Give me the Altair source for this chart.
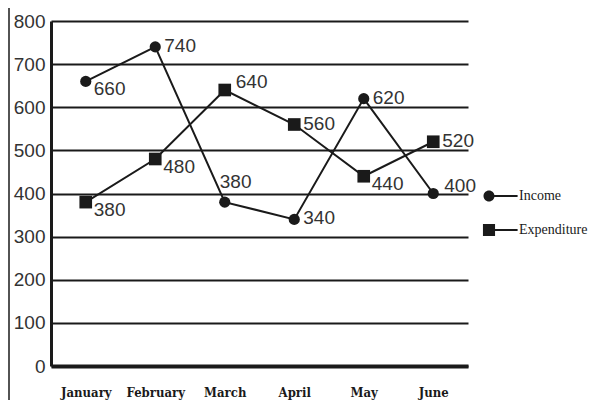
import altair as alt
import pandas as pd

months = ["January", "February", "March", "April", "May", "June"]
income = [660, 740, 380, 340, 620, 400]
expenditure = [380, 480, 640, 560, 440, 520]
series_names = ["Income", "Expenditure"]
# label placement relative to each point
income_label_pos = ["below", "right", "above", "right", "right", "upright"]
expenditure_label_pos = ["below", "below", "upright", "right", "below", "right"]
y_ticks = [0, 100, 200, 300, 400, 500, 600, 700, 800]

rows = []
for s, vals, pos in [("Income", income, income_label_pos),
                     ("Expenditure", expenditure, expenditure_label_pos)]:
    for m, v, p in zip(months, vals, pos):
        rows.append({"month": m, "series": s, "value": v, "pos": p})
df = pd.DataFrame(rows)

INK = "#1a1a1a"
NUM_FONT = "Liberation Sans"

x_enc = alt.X(
    "month:N", sort=months,
    scale=alt.Scale(type="point", padding=0.5),
    axis=alt.Axis(title=None, labelAngle=0, domain=True, domainColor=INK,
                  domainWidth=4, ticks=False, grid=False,
                  labelFont="DejaVu Serif Condensed", labelFontWeight="bold",
                  labelFontSize=13, labelPadding=20, labelColor=INK),
)
y_enc = alt.Y(
    "value:Q",
    scale=alt.Scale(domain=[0, 800], nice=False),
    axis=alt.Axis(values=y_ticks, title=None, grid=True, gridColor=INK,
                  gridWidth=2, domainColor=INK, domainWidth=3, ticks=False,
                  labelFont=NUM_FONT, labelFontSize=19, labelPadding=6,
                  labelColor="#333"),
)

base = alt.Chart(df)

lines = base.mark_line(color=INK, strokeWidth=2).encode(
    x=x_enc, y=y_enc, detail="series:N"
)

points = base.mark_point(filled=True, opacity=1, color=INK).encode(
    x=x_enc, y=y_enc,
    shape=alt.Shape(
        "series:N",
        scale=alt.Scale(domain=series_names, range=["circle", "square"]),
        legend=None,
    ),
    size=alt.condition("datum.series === 'Income'", alt.value(125), alt.value(160)),
)

circle_path = "M-1,0A1,1,0,1,1,1,0A1,1,0,1,1,-1,0Z M0.5,-0.2L5.2,-0.2L5.2,0.2L0.5,0.2Z"
square_path = "M-1.1,-1.1L1.1,-1.1L1.1,1.1L-1.1,1.1Z M1,-0.2L5.2,-0.2L5.2,0.2L1,0.2Z"

legend_layer = base.mark_point(filled=True, opacity=0, color=INK).encode(
    x=x_enc, y=y_enc,
    shape=alt.Shape(
        "series:N",
        scale=alt.Scale(domain=series_names, range=[circle_path, square_path]),
        legend=alt.Legend(
            title=None, orient="none", legendX=431, legendY=168,
            symbolSize=121, labelFont="Liberation Serif", labelFontSize=14,
            labelColor=INK, labelOffset=23, rowPadding=20, padding=0,
            symbolFillColor=INK, symbolStrokeWidth=0, symbolOpacity=1,
        ),
    ),
)

def labels(pos, dx, dy):
    return base.transform_filter(alt.datum.pos == pos).mark_text(
        align="left", baseline="middle", dx=dx, dy=dy,
        font=NUM_FONT, fontSize=19, color="#333",
    ).encode(x=x_enc, y=y_enc, text="value:Q")

frame = alt.Chart(pd.DataFrame({"v": [0]})).mark_rule(color=INK, strokeWidth=1.5).encode(
    x=alt.value(-42), y=alt.value(-13), y2=alt.value(379)
)

chart = alt.layer(
    lines, points, legend_layer,
    labels("below", 8, 8), labels("right", 9, -1), labels("upright", 11, -8),
    labels("above", -5, -20),
    frame,
).resolve_scale(shape="independent").properties(
    width=417, height=345,
    padding={"left": 43, "top": 13, "right": 126, "bottom": 34},
    autosize=alt.AutoSizeParams(type="none"),
).configure_view(stroke=None)

chart.save("out.html", embed_options={"renderer": "svg", "actions": False})
